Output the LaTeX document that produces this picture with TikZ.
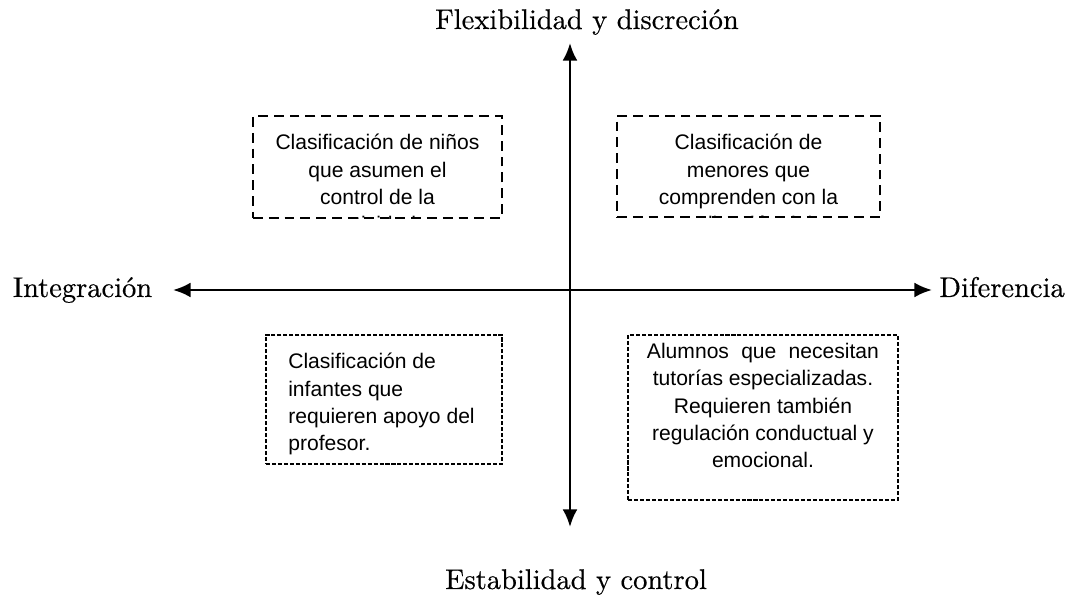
\documentclass[tikz,border=0pt]{standalone}
\usepackage{fontspec}
\newfontfamily\boxfont{Liberation Sans}
\newfontfamily\labelfont{lmroman10-regular.otf}[FakeBold=0.4]
\usetikzlibrary{arrows.meta}

\begin{document}
\begin{tikzpicture}[line width=1.5pt, >={Latex[length=10pt,width=8.5pt]},
    axislabel/.style={font=\labelfont\fontsize{16.2}{20}\selectfont, inner sep=0pt},
    boxtext/.style={font=\boxfont\fontsize{12}{15.5}\selectfont, inner sep=0pt, align=center},
    thickbox/.style={draw, dash pattern=on 5.6pt off 3.4pt, line width=1.5pt},
    thinbox/.style={draw, dash pattern=on 2.3pt off 1.1pt, line width=0.6pt}]
        \useasboundingbox (-11.4,-6.36) rectangle (9.92,5.8);

        % ejes
        \coordinate (west) at (-7.94,0);
        \coordinate (east) at (7.24,0);
        \coordinate (north) at (0,4.94);
        \coordinate (south) at (0,-4.74);
        \draw[<->] (west) -- (east);
        \draw[<->] (north) -- (south);

        \node[axislabel, anchor=base] (flex) at (0.34,5.22) {Flexibilidad y discreción};
        \node[axislabel, anchor=base] (estab) at (0.12,-5.98) {Estabilidad y control};
        \node[axislabel, anchor=base] (integ) at (-9.75,-0.14) {Integración};
        \node[axislabel, anchor=base west] (difer) at (7.36,-0.14) {Diferencia};

        % cuadrantes
        \node[thickbox, minimum width=4.98cm, minimum height=2.04cm] (ninos) at (-3.85,2.46) {};
        \node[thickbox, minimum width=5.26cm, minimum height=2.02cm] (menores) at (3.57,2.47) {};
        \node[thinbox, minimum width=4.72cm, minimum height=2.58cm] (infantes) at (-3.72,-2.19) {};
        \node[thinbox, minimum width=5.4cm, minimum height=3.3cm] (alumnos) at (3.86,-2.55) {};

        \begin{scope}
            \clip ([yshift=0.02cm]ninos.south west) rectangle (ninos.north east);
            \node[boxtext, anchor=north] (ninostxt) at (-3.85,3.14) {Clasificación de niños\\que asumen el\\control de la\\actividad.};
        \end{scope}
        \begin{scope}
            \clip ([yshift=0.02cm]menores.south west) rectangle (menores.north east);
            \node[boxtext, anchor=north] (menorestxt) at (3.57,3.14) {Clasificación de\\menores que\\comprenden con la\\aplicación del};
        \end{scope}
        \node[boxtext, align=left, anchor=north west] (infantestxt) at (-5.66,-1.24) {Clasificación de\\infantes que\\requieren apoyo del\\profesor.};
        \node[boxtext, anchor=north] (alumnostxt) at (3.86,-1.04) {\makebox[4.64cm][s]{Alumnos que necesitan}\\tutorías especializadas.\\Requieren también\\regulación conductual y\\emocional.};
    \end{tikzpicture}
\end{document}
